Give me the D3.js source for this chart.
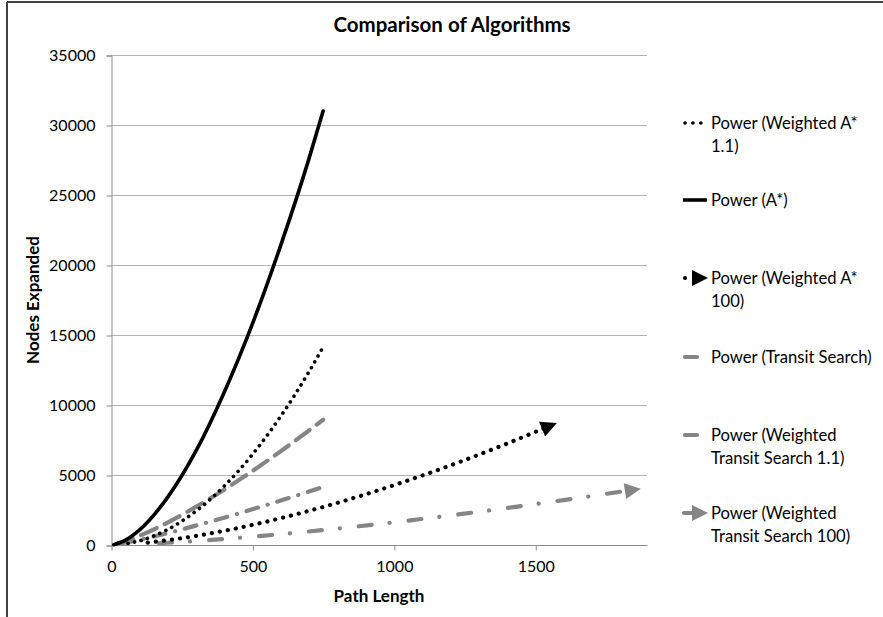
<!DOCTYPE html>
<html><head><meta charset="utf-8">
<script src="https://cdn.jsdelivr.net/npm/d3@7"></script>
<style>
body{margin:0;background:#fff;}
svg{display:block;font-family:Lato,"Open Sans",sans-serif;}
</style></head>
<body><svg id="chart" width="883" height="617"></svg>
<script>
// ---- data ----
const title = "Comparison of Algorithms";
const xTitle = "Path Length";
const yTitle = "Nodes Expanded";
const xTicks = [0, 500, 1000, 1500];
const yTicks = [0, 5000, 10000, 15000, 20000, 25000, 30000, 35000];

const xAstar = [10, 50, 100, 200, 300, 400, 500, 600, 700, 750];
const yAstar = [20, 330, 1060, 3400, 6700, 10900, 15800, 21400, 27600, 31000];

const xWA11 = [60, 100, 200, 300, 400, 500, 600, 700, 750];
const yWA11 = [108, 290, 1103, 2412, 4203, 6465, 9193, 12377, 14140];

const xWA100 = [130, 200, 300, 400, 500, 600, 800, 1000, 1200, 1400, 1550];
const yWA100 = [174, 341, 645, 1014, 1439, 1916, 3009, 4271, 5687, 7245, 8500];

const xTS = [20, 60, 100, 200, 300, 400, 500, 600, 700, 750];
const yTS = [81, 335, 652, 1605, 2720, 3953, 5283, 6697, 8182, 8950];

const xWTS11 = [40, 100, 200, 300, 400, 500, 600, 700, 750];
const yWTS11 = [123, 370, 850, 1382, 1952, 2551, 3175, 3820, 4150];

const xWTS100 = [170, 300, 400, 600, 800, 1000, 1200, 1400, 1600, 1845];
const yWTS100 = [124, 283, 429, 773, 1173, 1621, 2112, 2641, 3204, 3940];

const legendLabels = [
  ["Power (Weighted A*", "1.1)"],
  ["Power (A*)"],
  ["Power (Weighted A*", "100)"],
  ["Power (Transit Search)"],
  ["Power (Weighted", "Transit Search 1.1)"],
  ["Power (Weighted", "Transit Search 100)"]
];

// ---- drawing ----
const svg = d3.select("#chart");
const x = d3.scaleLinear().domain([0, 1895]).range([111, 647]);
const y = d3.scaleLinear().domain([0, 35000]).range([545, 55]);
const BLACK = "#000", GRAY = "#858585";

// outer border (top and left)
svg.append("line").attr("x1", 7).attr("x2", 883).attr("y1", 2).attr("y2", 2)
  .attr("stroke", "#404040").attr("stroke-width", 2);
svg.append("line").attr("x1", 7).attr("x2", 7).attr("y1", 2).attr("y2", 617)
  .attr("stroke", "#404040").attr("stroke-width", 2);

// defs: arrow markers
const defs = svg.append("defs");
function marker(id, color) {
  defs.append("marker").attr("id", id)
    .attr("viewBox", "0 -6 12 12").attr("refX", 6).attr("refY", 0)
    .attr("markerUnits", "userSpaceOnUse")
    .attr("markerWidth", 17).attr("markerHeight", 16)
    .attr("orient", "auto")
    .append("path").attr("d", "M0,-6L12,0L0,6Z").attr("fill", color);
}
marker("arrBlack", BLACK);
marker("arrGray", GRAY);

// gridlines
svg.append("g").selectAll("line").data(yTicks.filter(d => d > 0)).join("line")
  .attr("x1", 111).attr("x2", 647)
  .attr("y1", d => y(d) + 0.5).attr("y2", d => y(d) + 0.5)
  .attr("stroke", "#b3b3b3").attr("stroke-width", 1);

// axes
const yAxis = d3.axisLeft(y).tickValues(yTicks).tickSize(5).tickPadding(11).tickFormat(d3.format("d"));
const gy = svg.append("g").attr("transform", "translate(111.5,0.5)").call(yAxis);
const xAxis = d3.axisBottom(x).tickValues(xTicks).tickSize(5).tickPadding(10).tickFormat(d3.format("d"));
const gx = svg.append("g").attr("transform", "translate(0.5,545.5)").call(xAxis);
[gx, gy].forEach(g => {
  g.select(".domain").attr("stroke", "#8c8c8c");
  g.selectAll(".tick line").attr("stroke", "#8c8c8c");
  g.selectAll(".tick text").attr("fill", "#000").attr("font-size", 16)
    .attr("font-family", "Lato, 'Open Sans', sans-serif");
});
gx.select(".domain").attr("d", "M111,0H647");

// series
const line = d3.line().x(d => x(d[0])).y(d => y(d[1])).curve(d3.curveMonotoneX);
const zip = (xs, ys) => xs.map((v, i) => [v, ys[i]]);
const series = [
  {xs: xWTS100, ys: yWTS100, color: GRAY, w: 4.2, dash: "13,18,0.1,19", cap: "round", marker: "arrGray"},
  {xs: xWTS11, ys: yWTS11, color: GRAY, w: 4.2, dash: "12,10,0.1,10", cap: "round"},
  {xs: xTS, ys: yTS, color: GRAY, w: 4.2, dash: "17,9", cap: "round"},
  {xs: xWA100, ys: yWA100, color: BLACK, w: 4.2, dash: "0.1,8", cap: "round", marker: "arrBlack"},
  {xs: xWA11, ys: yWA11, color: BLACK, w: 3.6, dash: "0.1,6.6", cap: "round"},
  {xs: xAstar, ys: yAstar, color: BLACK, w: 3.6, dash: null, cap: "round"}
];
series.forEach(s => {
  const p = svg.append("path").datum(zip(s.xs, s.ys))
    .attr("d", line).attr("fill", "none")
    .attr("stroke", s.color).attr("stroke-width", s.w)
    .attr("stroke-linecap", s.cap);
  if (s.dash) p.attr("stroke-dasharray", s.dash);
  if (s.marker) p.attr("marker-end", `url(#${s.marker})`);
});

// titles
svg.append("text").attr("x", 452).attr("y", 32).attr("text-anchor", "middle")
  .attr("font-weight", "bold").attr("font-size", 20.5).text(title);
svg.append("text").attr("x", 379).attr("y", 602).attr("text-anchor", "middle")
  .attr("font-weight", "bold").attr("font-size", 17).text(xTitle);
svg.append("text").attr("transform", "translate(39,300) rotate(-90)").attr("text-anchor", "middle")
  .attr("font-weight", "bold").attr("font-size", 17).text(yTitle);

// legend
const legY = [123, 200, 278, 357, 435, 513];
const lg = svg.append("g");
legendLabels.forEach((lines, i) => {
  const t = lg.append("text").attr("x", 711).attr("y", legY[i] + 6).attr("font-size", 16.6);
  lines.forEach((s, j) => t.append("tspan").attr("x", 711).attr("dy", j ? 22.5 : 0).text(s));
});
// legend symbols
lg.append("line").attr("x1", 685).attr("x2", 701).attr("y1", legY[0]).attr("y2", legY[0])
  .attr("stroke", BLACK).attr("stroke-width", 3.6).attr("stroke-linecap", "round").attr("stroke-dasharray", "0.1,7.8");
lg.append("line").attr("x1", 683).attr("x2", 707).attr("y1", legY[1]).attr("y2", legY[1])
  .attr("stroke", BLACK).attr("stroke-width", 3.6);
lg.append("line").attr("x1", 685).attr("x2", 700).attr("y1", legY[2]).attr("y2", legY[2])
  .attr("stroke", BLACK).attr("stroke-width", 4).attr("stroke-linecap", "round").attr("stroke-dasharray", "0.1,40")
  .attr("marker-end", "url(#arrBlack)");
lg.append("line").attr("x1", 685).attr("x2", 697).attr("y1", legY[3]).attr("y2", legY[3])
  .attr("stroke", GRAY).attr("stroke-width", 4.2).attr("stroke-linecap", "round");
lg.append("line").attr("x1", 685).attr("x2", 697).attr("y1", legY[4]).attr("y2", legY[4])
  .attr("stroke", GRAY).attr("stroke-width", 4.2).attr("stroke-linecap", "round");
lg.append("line").attr("x1", 684).attr("x2", 700).attr("y1", legY[5]).attr("y2", legY[5])
  .attr("stroke", GRAY).attr("stroke-width", 4.2).attr("stroke-linecap", "round")
  .attr("marker-end", "url(#arrGray)");
</script></body></html>
